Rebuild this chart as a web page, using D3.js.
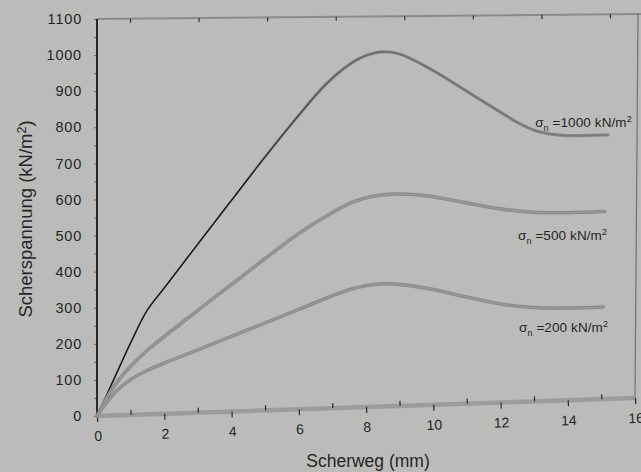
<!DOCTYPE html>
<html><head><meta charset="utf-8">
<script src="https://cdn.jsdelivr.net/npm/d3@7"></script>
<style>
html,body{margin:0;padding:0;background:#bbbcba;}
svg{display:block;}
text{font-family:"Liberation Sans",Arial,sans-serif;fill:#262626;}
</style></head>
<body>
<svg id="c" width="641" height="472"></svg>
<script>
// ---- data ----
const xTicks = [0,2,4,6,8,10,12,14,16];
const xMinor = [1,3,5,7,9,11,13,15];
const yTicks = [0,100,200,300,400,500,600,700,800,900,1000,1100];
const yMinor = [50,150,250,350,450,550,650,750,850,950,1050];

const weg1000 = [0,0.5,1.0,1.5,2.0,3.0,4.0,5.0,6.0,6.8,7.5,8.0,8.5,9.0,10.0,11.0,12.0,12.5,13.0,13.5,14.0,15.2];
const tau1000 = [0,100,200,290,350,470,590,710,825,910,965,990,1000,993,945,885,825,795,772,760,755,755];
const weg500  = [0,0.5,1.0,1.5,2.0,3.0,4.0,5.0,6.0,7.0,7.6,8.2,8.8,9.6,10.3,11.0,12.0,13.0,14.0,15.1];
const tau500  = [0,80,135,178,215,285,355,425,493,550,578,593,598,594,583,569,550,538,535,536];
const weg200  = [0,0.5,1.0,1.5,2.0,3.0,4.0,5.0,6.0,7.0,7.6,8.3,9.0,10.0,11.0,12.0,13.0,14.0,15.05];
const tau200  = [0,60,98,122,141,175,210,245,280,316,334,345,343,326,302,280,267,263,263];

const seriesNames = ["1000","500","200"];
const labelWeg = [13.03,12.52,12.55];
const labelTau = [781,460,199];

// ---- scales (photographed page: bottom edge slightly tilted) ----
const xS   = d3.scaleLinear().domain([0,16]).range([97,635]);
const yBot = d3.scaleLinear().domain([0,16]).range([416,398]);
const yTop = d3.scaleLinear().domain([0,16]).range([19,14]);
const yF   = d3.scaleLinear().domain([0,1100]).range([0,1]);
function P(mm,v){ const t=yF(v); return [xS(mm), yBot(mm)+(yTop(mm)-yBot(mm))*t]; }
const yLeft = d3.scaleLinear().domain([0,1100]).range([yBot(0),yTop(0)]);

const svg = d3.select("#c");
const defs = svg.append("defs");

// top border
svg.append("line").attr("x1",97).attr("y1",19).attr("x2",641).attr("y2",14)
  .attr("stroke","#8a8a8a").attr("stroke-width",2);
const angTop = Math.atan2(14-19, 544)*180/Math.PI;
const topScale = d3.scaleLinear().domain([1,15]).range([33,513]);
svg.append("g").attr("transform",`translate(97,19) rotate(${angTop})`)
  .call(d3.axisBottom(topScale).tickValues(xMinor).tickSize(4).tickFormat("").tickSizeOuter(0))
  .call(g=>g.select(".domain").remove())
  .call(g=>g.selectAll(".tick line").attr("stroke","#333").attr("stroke-width",1.2));

// right border
svg.append("line").attr("x1",638).attr("y1",14).attr("x2",635).attr("y2",398)
  .attr("stroke","#555").attr("stroke-width",1.2).attr("opacity",0.7);

// x axis (tilted)
const dx = xS(16)-xS(0), dy = yBot(16)-yBot(0);
const ang = Math.atan2(dy,dx)*180/Math.PI;
const len = Math.sqrt(dx*dx+dy*dy);
const xAx = d3.scaleLinear().domain([0,16]).range([0,len]);
const gx = svg.append("g").attr("transform",`translate(${xS(0)},${yBot(0)}) rotate(${ang})`);
gx.append("line").attr("x1",0).attr("x2",len).attr("y1",0).attr("y2",0)
  .attr("stroke","#9b9b9a").attr("stroke-width",4.5);
gx.append("g").call(d3.axisBottom(xAx).tickValues(xMinor).tickSize(-5).tickFormat("").tickSizeOuter(0))
  .call(g=>g.select(".domain").remove())
  .call(g=>g.selectAll(".tick line").attr("stroke","#2a2a2a").attr("stroke-width",1.2));
gx.append("g").call(d3.axisBottom(xAx).tickValues(xTicks).tickSize(6).tickPadding(9).tickSizeOuter(0))
  .call(g=>g.select(".domain").remove())
  .call(g=>g.selectAll(".tick line").attr("stroke","#2a2a2a").attr("stroke-width",1.2))
  .call(g=>g.selectAll(".tick text").attr("font-size",14).attr("fill","#262626")
        .style("font-family","'Liberation Sans',Arial,sans-serif"));

// y axis
const gy = svg.append("g").attr("transform",`translate(${xS(0)},0)`);
gy.append("g").call(d3.axisLeft(yLeft).tickValues(yMinor).tickSize(3).tickFormat("").tickSizeOuter(0))
  .call(g=>g.select(".domain").remove())
  .call(g=>g.selectAll(".tick line").attr("stroke","#666"));
gy.append("g").call(d3.axisLeft(yLeft).tickValues(yTicks).tickSize(3).tickPadding(12)
      .tickFormat(d3.format("d")).tickSizeOuter(0))
  .call(g=>g.select(".domain").remove())
  .call(g=>g.selectAll(".tick line").attr("stroke","#666"))
  .call(g=>g.selectAll(".tick text").attr("font-size",14.5).attr("letter-spacing",0.8)
        .attr("fill","#262626").style("font-family","'Liberation Sans',Arial,sans-serif"));
gy.append("line").attr("x1",0).attr("x2",0).attr("y1",yTop(0)).attr("y2",yBot(0)+2)
  .attr("stroke","#111").attr("stroke-width",1.7);

// curves
const line = d3.line().x(d=>P(d[0],d[1])[0]).y(d=>P(d[0],d[1])[1]).curve(d3.curveCatmullRom.alpha(0.5));
const d1000 = d3.zip(weg1000,tau1000), d500 = d3.zip(weg500,tau500), d200 = d3.zip(weg200,tau200);

const gGray = defs.append("linearGradient").attr("id","gGray").attr("gradientUnits","userSpaceOnUse")
  .attr("x1",97).attr("x2",641).attr("y1",0).attr("y2",0);
gGray.append("stop").attr("offset",0).attr("stop-color","#8a8a8a").attr("stop-opacity",0);
gGray.append("stop").attr("offset",0.24).attr("stop-color","#8a8a8a").attr("stop-opacity",0);
gGray.append("stop").attr("offset",0.42).attr("stop-color","#8a8a8a").attr("stop-opacity",1);
gGray.append("stop").attr("offset",1).attr("stop-color","#8a8a8a").attr("stop-opacity",1);
const gBlack = defs.append("linearGradient").attr("id","gBlack").attr("gradientUnits","userSpaceOnUse")
  .attr("x1",97).attr("x2",641).attr("y1",0).attr("y2",0);
gBlack.append("stop").attr("offset",0).attr("stop-color","#151515").attr("stop-opacity",1);
gBlack.append("stop").attr("offset",0.27).attr("stop-color","#151515").attr("stop-opacity",1);
gBlack.append("stop").attr("offset",0.45).attr("stop-color","#4a4a4a").attr("stop-opacity",0.6);
gBlack.append("stop").attr("offset",1).attr("stop-color","#6a6a6a").attr("stop-opacity",0.35);

svg.append("path").datum(d1000).attr("d",line).attr("fill","none")
  .attr("stroke","url(#gGray)").attr("stroke-width",3.2).attr("stroke-linecap","round");
svg.append("path").datum(d1000).attr("d",line).attr("fill","none")
  .attr("stroke","url(#gBlack)").attr("stroke-width",1.5).attr("stroke-linecap","round");
[d500,d200].forEach(d=>{
  svg.append("path").datum(d).attr("d",line).attr("fill","none")
    .attr("stroke","#8c8c8c").attr("stroke-width",3.6).attr("stroke-linecap","round");
  svg.append("path").datum(d).attr("d",line).attr("fill","none")
    .attr("stroke","#9a9a9a").attr("stroke-width",1.2);
});

// curve labels
seriesNames.forEach((n,i)=>{
  const p = P(labelWeg[i],labelTau[i]);
  const t = svg.append("text").attr("x",p[0]).attr("y",p[1]).attr("font-size",13.5)
    .attr("letter-spacing",0.1).attr("fill","#2a2a2a");
  t.append("tspan").text("σ");
  t.append("tspan").attr("dy",4).attr("font-size",9).text("n");
  t.append("tspan").attr("dy",-4).text(" =" + n + " kN/m");
  t.append("tspan").attr("dy",-5).attr("font-size",9).text("2");
});

// axis titles
svg.append("text").attr("x",368).attr("y",467).attr("text-anchor","middle")
  .attr("font-size",17.5).attr("fill","#2e2e2e").text("Scherweg (mm)");
const yt = svg.append("text").attr("transform","translate(32,219) rotate(-90)")
  .attr("text-anchor","middle").attr("font-size",18.5).attr("fill","#2e2e2e");
yt.append("tspan").text("Scherspannung (kN/m");
yt.append("tspan").attr("dy",-6).attr("font-size",12.5).text("2");
yt.append("tspan").attr("dy",6).text(")");
</script>
</body></html>
